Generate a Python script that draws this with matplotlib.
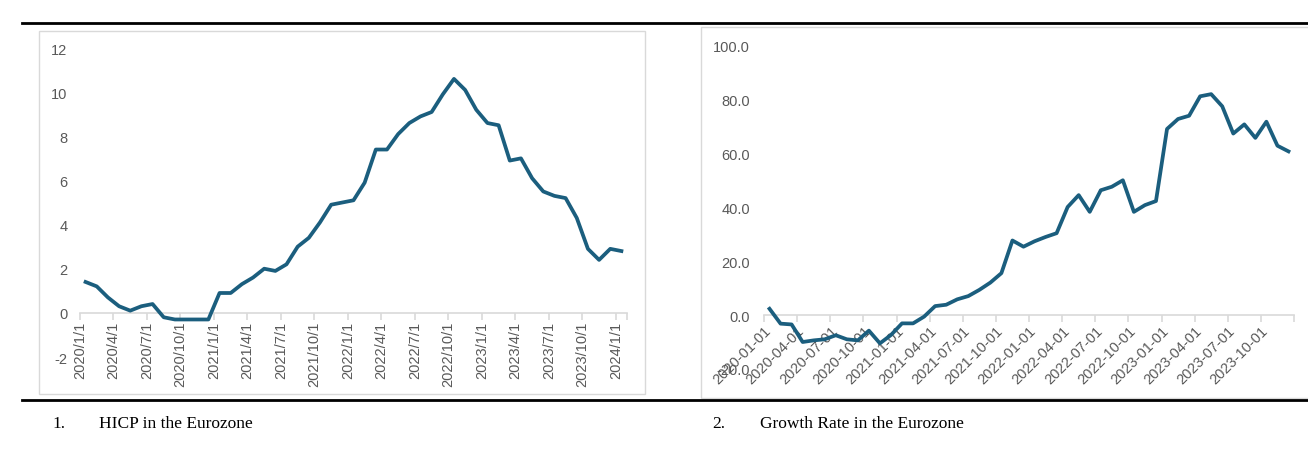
import matplotlib
matplotlib.use('Agg')
import matplotlib.pyplot as plt
from matplotlib.patches import Rectangle
from matplotlib.lines import Line2D
import matplotlib.transforms as mtransforms

# monthly HICP, 2020-01 .. 2024-01
hicp = [1.4, 1.2, 0.7, 0.3, 0.1, 0.3, 0.4, -0.2, -0.3, -0.3, -0.3, -0.3,
        0.9, 0.9, 1.3, 1.6, 2.0, 1.9, 2.2, 3.0, 3.4, 4.1, 4.9, 5.0,
        5.1, 5.9, 7.4, 7.4, 8.1, 8.6, 8.9, 9.1, 9.9, 10.6, 10.1, 9.2,
        8.6, 8.5, 6.9, 7.0, 6.1, 5.5, 5.3, 5.2, 4.3, 2.9, 2.4, 2.9,
        2.8]

# monthly growth rate, 2020-01 .. 2023-12
growth = [2.3, -3.2, -3.5, -10.0, -9.4, -9.0, -7.5, -9.0, -9.4, -5.8, -10.5, -7.4,
          -3.1, -3.1, -0.6, 3.3, 3.8, 5.8, 7.0, 9.3, 12.0, 15.5, 27.6, 25.3,
          27.3, 28.9, 30.3, 40.0, 44.4, 38.2, 46.2, 47.5, 49.9, 38.2, 40.7, 42.2,
          68.9, 72.6, 73.8, 81.0, 81.8, 77.3, 67.2, 70.6, 65.6, 71.6, 62.7, 60.6]

left_labels = ['2020/1/1', '2020/4/1', '2020/7/1', '2020/10/1',
               '2021/1/1', '2021/4/1', '2021/7/1', '2021/10/1',
               '2022/1/1', '2022/4/1', '2022/7/1', '2022/10/1',
               '2023/1/1', '2023/4/1', '2023/7/1', '2023/10/1', '2024/1/1']
right_labels = ['2020-01-01', '2020-04-01', '2020-07-01', '2020-10-01',
                '2021-01-01', '2021-04-01', '2021-07-01', '2021-10-01',
                '2022-01-01', '2022-04-01', '2022-07-01', '2022-10-01',
                '2023-01-01', '2023-04-01', '2023-07-01', '2023-10-01', '']
captions = [('1.', 'HICP in the Eurozone'), ('2.', 'Growth Rate in the Eurozone')]

W, H = 1308, 464
LINE = '#1b5e7e'
TXT = '#595959'
GRID = '#d9d9d9'

plt.rcParams['font.family'] = ['Liberation Sans', 'DejaVu Sans']
plt.rcParams['axes.unicode_minus'] = False

fig = plt.figure(figsize=(W / 100, H / 100), dpi=100)


def px_axes(left, top, right, bottom):
    return fig.add_axes([left / W, 1 - bottom / H, (right - left) / W, (bottom - top) / H])


def frame(left, top, right, bottom):
    fig.patches.append(Rectangle((left / W, 1 - bottom / H), (right - left) / W, (bottom - top) / H,
                                 transform=fig.transFigure, fill=False, edgecolor=GRID, lw=1))


def style(ax, ypad):
    for s in ['left', 'top', 'right']:
        ax.spines[s].set_visible(False)
    ax.spines['bottom'].set_position(('data', 0))
    ax.spines['bottom'].set_color(GRID)
    ax.spines['bottom'].set_linewidth(1.2)
    ax.tick_params(axis='y', length=0, labelsize=10.5, labelcolor=TXT, pad=ypad)
    ax.tick_params(axis='x', which='both', length=5, color=GRID, width=1.2,
                   labelsize=10.5, labelcolor=TXT)
    ax.patch.set_alpha(0)


frame(39, 32, 645, 395)
frame(701, 28, 1320, 399)

# left chart
ax1 = px_axes(80, 49, 627, 358)
x1 = [i + 0.5 for i in range(len(hicp))]
ax1.plot(x1, hicp, color=LINE, lw=2.7, zorder=3)
ax1.set_xlim(0, len(hicp))
ax1.set_ylim(-2, 12)
ax1.set_yticks(range(-2, 13, 2))
style(ax1, 9)
ax1.set_xticks(range(0, len(hicp), 3))
ax1.set_xticks([len(hicp)], minor=True)
ax1.set_xticklabels(left_labels, rotation=90, va='top', ha='center')
off = mtransforms.ScaledTranslation(4 / 100, 0, fig.dpi_scale_trans)
for lab in ax1.get_xticklabels():
    lab.set_transform(lab.get_transform() + off)
ax1.tick_params(axis='x', pad=0.5)

# right chart
ax2 = px_axes(764, 46, 1294, 370)
x2 = [i + 0.5 for i in range(len(growth))]
ax2.plot(x2, growth, color=LINE, lw=2.7, zorder=3)
ax2.set_xlim(0, len(growth))
ax2.set_ylim(-20, 100)
ax2.set_yticks(range(-20, 101, 20))
ax2.set_yticklabels(['%.1f' % v for v in range(-20, 101, 20)])
style(ax2, 10)
ax2.set_xticks(range(0, len(growth) + 1, 3))
ax2.set_xticklabels(right_labels, rotation=45, ha='right', va='top', rotation_mode='anchor')
off2 = mtransforms.ScaledTranslation(10 / 100, 0, fig.dpi_scale_trans)
for lab in ax2.get_xticklabels():
    lab.set_transform(lab.get_transform() + off2)
ax2.tick_params(axis='x', pad=0.5)

# horizontal rules
for y in (24, 401):
    fig.add_artist(Line2D([22 / W, 1], [1 - y / H, 1 - y / H], transform=fig.transFigure,
                          color='black', lw=2))

# captions
for (num, text), xn, xt in zip(captions, (52, 712), (99, 760)):
    fig.text(xn / W, 1 - 424 / H, num, family='Liberation Serif', fontsize=12.5, va='center')
    fig.text(xt / W, 1 - 424 / H, text, family='Liberation Serif', fontsize=12.5, va='center')

fig.savefig('out.png', dpi=100)
